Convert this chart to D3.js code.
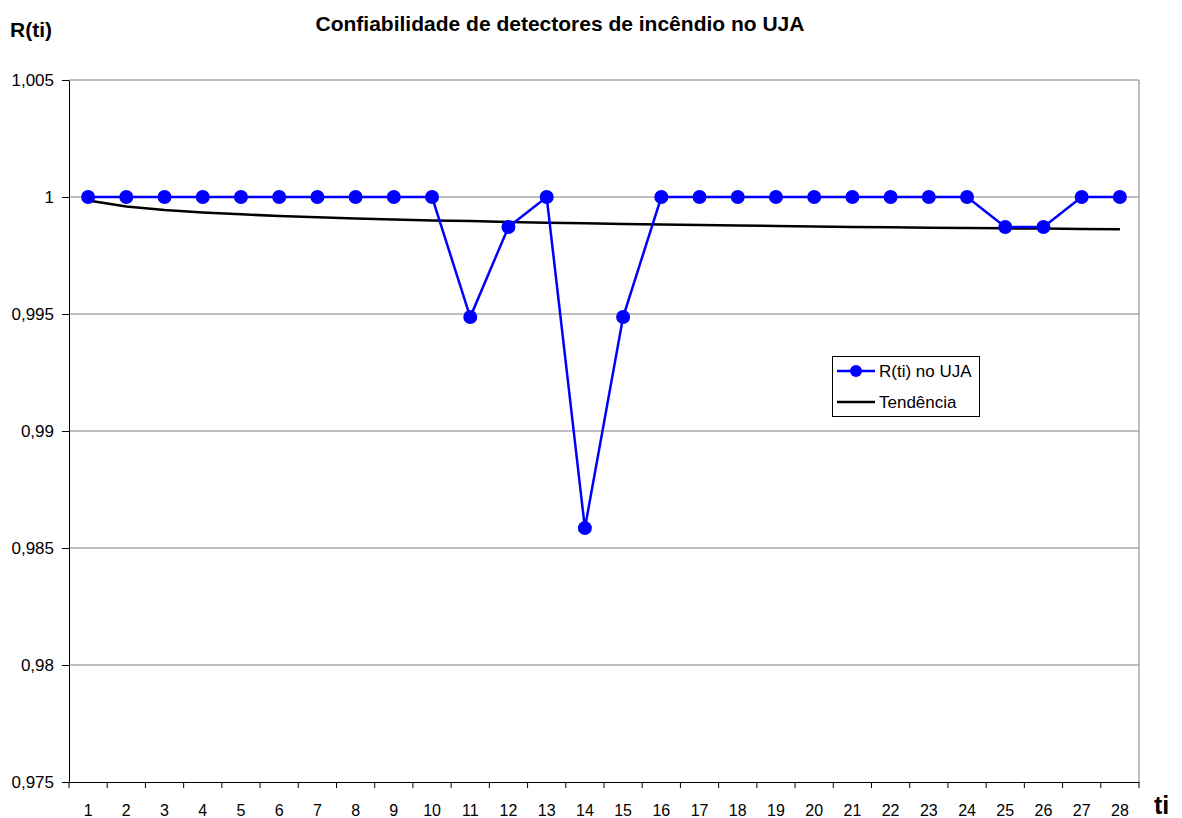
<!DOCTYPE html>
<html><head><meta charset="utf-8">
<script src="https://cdn.jsdelivr.net/npm/d3@7"></script>
<style>body{margin:0;background:#fff}svg{display:block;font-family:"Liberation Sans",Arial,sans-serif}</style>
</head><body>
<svg id="c" width="1182" height="818"></svg>
<script>
const categories = d3.range(1, 29).map(String);
const seriesR = [1,1,1,1,1,1,1,1,1,1,0.99487,0.99872,1,0.98585,0.99487,1,1,1,1,1,1,1,1,1,0.99872,0.99872,1,1];
const seriesTrend = [0.99985,0.99959,0.99944,0.99934,0.99926,0.99919,0.99913,0.99908,0.99904,0.99900,0.99897,0.99893,0.99890,0.99888,0.99885,0.99882,0.99880,0.99878,0.99876,0.99874,0.99872,0.99871,0.99869,0.99868,0.99866,0.99865,0.99863,0.99862];
const yTicks = [0.975,0.98,0.985,0.99,0.995,1,1.005];
const yTickLabels = ["0,975","0,98","0,985","0,99","0,995","1","1,005"];
const title = "Confiabilidade de detectores de incêndio no UJA";
const legendLabels = ["R(ti) no UJA","Tendência"];

const svg = d3.select("#c");
const L=69, R=1139, T=80, B=782;
const x = d3.scaleBand().domain(categories).range([L,R]);
const y = d3.scaleLinear().domain([0.975,1.005]).range([B,T]);

// gridlines
svg.append("g").selectAll("line").data(yTicks.slice(1)).join("line")
  .attr("x1",L).attr("x2",R).attr("y1",d=>y(d)).attr("y2",d=>y(d))
  .attr("stroke","#808080").attr("stroke-width",1);
// right border
svg.append("line").attr("x1",R).attr("x2",R).attr("y1",T).attr("y2",B).attr("stroke","#808080");

// y axis
const ya = svg.append("g").attr("transform",`translate(${L},0)`)
  .call(d3.axisLeft(y).tickValues(yTicks).tickFormat((d,i)=>yTickLabels[i]).tickSize(7).tickSizeOuter(0));
ya.select(".domain").attr("stroke","#000");
ya.selectAll("text").attr("font-size",17).attr("fill","#000").attr("font-family","Liberation Sans, Arial").attr("dx",-5);

// x axis
const xa = svg.append("g").attr("transform",`translate(0,${B})`)
  .call(d3.axisBottom(x).tickSize(0).tickSizeOuter(0));
xa.select(".domain").attr("stroke","#000");
xa.selectAll("text").attr("font-size",16).attr("fill","#000").attr("font-family","Liberation Sans, Arial")
  .attr("y",33.5).attr("dy",null);
// tick marks at category boundaries
svg.append("g").selectAll("line").data(categories.concat(["end"])).join("line")
  .attr("x1",(d,i)=>L+i*x.step()).attr("x2",(d,i)=>L+i*x.step())
  .attr("y1",B).attr("y2",B+6).attr("stroke","#000");

const cx = d=>x(d)+x.bandwidth()/2;
// trend
svg.append("path").datum(seriesTrend)
  .attr("d",d3.line().x((d,i)=>cx(categories[i])).y(d=>y(d)))
  .attr("fill","none").attr("stroke","#000").attr("stroke-width",2.5);
// series
svg.append("path").datum(seriesR)
  .attr("d",d3.line().x((d,i)=>cx(categories[i])).y(d=>y(d)))
  .attr("fill","none").attr("stroke","#0000FF").attr("stroke-width",2.5);
svg.append("g").selectAll("circle").data(seriesR).join("circle")
  .attr("cx",(d,i)=>cx(categories[i])).attr("cy",d=>y(d)).attr("r",7).attr("fill","#0000FF");

// titles
svg.append("text").attr("x",560).attr("y",31).attr("text-anchor","middle")
  .attr("font-size",21).attr("font-weight","bold").text(title);
svg.append("text").attr("x",10).attr("y",37).attr("font-size",21).attr("font-weight","bold").text("R(ti)");
svg.append("text").attr("x",1154).attr("y",814).attr("font-size",25).attr("font-weight","bold").text("ti");

// legend
const lg = svg.append("g");
lg.append("rect").attr("x",832.5).attr("y",356.5).attr("width",147).attr("height",60)
  .attr("fill","#fff").attr("stroke","#000");
lg.append("line").attr("x1",837).attr("x2",875).attr("y1",371).attr("y2",371).attr("stroke","#0000FF").attr("stroke-width",2.5);
lg.append("circle").attr("cx",856).attr("cy",371).attr("r",6).attr("fill","#0000FF");
lg.append("line").attr("x1",837).attr("x2",875).attr("y1",402).attr("y2",402).attr("stroke","#000").attr("stroke-width",2.5);
lg.append("text").attr("x",879).attr("y",377).attr("font-size",17).text(legendLabels[0]);
lg.append("text").attr("x",879).attr("y",408).attr("font-size",17).text(legendLabels[1]);
</script>
</body></html>
